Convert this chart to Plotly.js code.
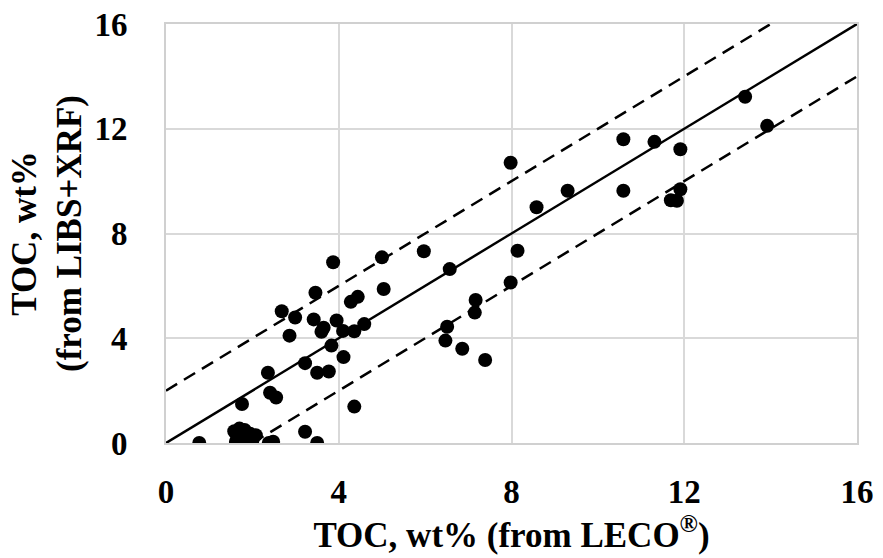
<!DOCTYPE html>
<html>
<head>
<meta charset="utf-8">
<script src="https://cdn.plot.ly/plotly-3.0.1.min.js"></script>
<style>html,body{margin:0;padding:0;background:#fff;}#chart{width:883px;height:558px;}</style>
</head>
<body>
<div id="chart"></div>
<script>
// TOC measured by LECO (x) vs predicted by LIBS+XRF (y), wt%
const tocLeco = [
  0.77, 1.58, 1.70, 1.82, 1.65, 1.75, 1.85, 1.95, 2.08, 1.72, 1.88, 1.62, 2.00,
  2.38, 2.48, 3.22, 3.50, 4.36, 1.76, 2.41, 2.55, 2.36, 3.22, 3.50, 3.77,
  4.11, 3.83, 2.86, 3.65, 3.60, 4.10, 4.36, 4.59, 3.95, 3.42, 2.99, 2.68,
  3.46, 4.28, 4.44, 5.04, 3.87, 5.00, 5.97, 6.57, 7.98, 8.14, 7.17, 7.15,
  6.51, 6.47, 6.86, 7.39, 7.98, 8.58, 9.30, 10.59, 10.59, 11.31, 11.91,
  11.91, 11.69, 11.83, 13.41, 13.92
];
const tocLibsXrf = [
  0.00, 0.45, 0.55, 0.50, 0.20, 0.10, 0.25, 0.35, 0.30, 0.00, 0.02, 0.05, 0.10,
  0.00, 0.05, 0.43, 0.00, 1.39, 1.49, 1.92, 1.74, 2.68, 3.05, 2.68, 2.73,
  3.28, 3.72, 4.10, 4.40, 4.25, 4.28, 4.27, 4.54, 4.68, 4.72, 4.79, 5.03,
  5.74, 5.39, 5.58, 5.88, 6.90, 7.09, 7.32, 6.64, 6.13, 7.34, 5.46, 4.98,
  4.44, 3.91, 3.60, 3.17, 10.70, 9.00, 9.63, 11.60, 9.63, 11.50, 11.22,
  9.69, 9.27, 9.25, 13.22, 12.11
];
// Reference lines: 1:1 and +/-2 wt%
const oneToOneX = [0, 16];
const oneToOneY = [0, 16];
const upperX = [0, 14];
const upperY = [2, 16];
const lowerX = [2, 16];
const lowerY = [0, 14];
const tickVals = [0, 4, 8, 12, 16];
const tickText = ['0', '4', '8', '12', '16'];

const fontFam = 'Liberation Serif, Times New Roman, serif';

const traces = [
  {x: upperX, y: upperY, mode: 'lines', line: {color: '#000', width: 2.5, dash: '13px,8px'}, hoverinfo: 'skip'},
  {x: lowerX, y: lowerY, mode: 'lines', line: {color: '#000', width: 2.5, dash: '13px,8px'}, hoverinfo: 'skip'},
  {x: oneToOneX, y: oneToOneY, mode: 'lines', line: {color: '#000', width: 2.5}, hoverinfo: 'skip'},
  {x: tocLeco, y: tocLibsXrf, mode: 'markers', marker: {color: '#000', size: 14}}
];

const axisCommon = {
  range: [0, 16],
  tickmode: 'array',
  tickvals: tickVals,
  ticktext: tickText,
  showgrid: true,
  gridcolor: '#d9d9d9',
  gridwidth: 2,
  zeroline: false,
  showline: true,
  linecolor: '#d0d0d0',
  linewidth: 2,
  mirror: true,
  ticks: '',
  automargin: false,
  tickfont: {family: fontFam, size: 33, color: '#000', weight: 'bold'}
};

const layout = {
  width: 883,
  height: 558,
  margin: {l: 166, r: 26, t: 24, b: 115},
  paper_bgcolor: '#fff',
  plot_bgcolor: '#fff',
  showlegend: false,
  font: {family: fontFam, color: '#000'},
  xaxis: Object.assign({}, axisCommon, {
    ticklabelstandoff: 18,
    title: {text: 'TOC, wt% (from LECO<sup>®</sup>)', standoff: 14,
            font: {family: fontFam, size: 35, color: '#000', weight: 'bold'}}
  }),
  yaxis: Object.assign({}, axisCommon, {
    ticklabelstandoff: 30,
    title: {text: 'TOC, wt%<br>(from LIBS+XRF)', standoff: 2,
            font: {family: fontFam, size: 35, color: '#000', weight: 'bold'}}
  })
};

Plotly.newPlot('chart', traces, layout, {staticPlot: true, displayModeBar: false});
</script>
</body>
</html>
